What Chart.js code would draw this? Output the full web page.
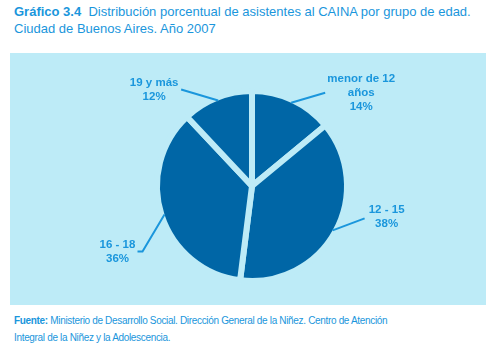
<!DOCTYPE html>
<html><head><meta charset="utf-8">
<script src="https://cdn.jsdelivr.net/npm/chart.js@4/dist/chart.umd.min.js"></script>
<style>
html,body{margin:0;padding:0;background:#fff;width:499px;height:349px;overflow:hidden;}
#title{position:absolute;left:14px;top:3px;font:13px "Liberation Sans",Arial,sans-serif;line-height:17px;color:#1a96dc;white-space:nowrap;}
#title b{font-weight:bold;}
#box{position:absolute;left:10px;top:53px;width:476px;height:252px;background:#bdebf7;}
#foot{position:absolute;left:14px;top:312px;font:10px "Liberation Sans",Arial,sans-serif;letter-spacing:-0.33px;line-height:17px;color:#1a96dc;white-space:nowrap;}
</style></head>
<body>
<div id="title"><b>Gráfico 3.4</b>&nbsp; Distribución porcentual de asistentes al CAINA por grupo de edad.<br>Ciudad de Buenos Aires. Año 2007</div>
<div id="box"><canvas id="c" width="476" height="252"></canvas></div>
<div id="foot"><b>Fuente:</b> Ministerio de Desarrollo Social. Dirección General de la Niñez. Centro de Atención<br>Integral de la Niñez y la Adolescencia.</div>
<script>
const categories = [['menor de 12', 'años'], ['12 - 15'], ['16 - 18'], ['19 y más']];
const values = [14, 38, 36, 12];

const BG = '#bdebf7', PIE = '#0066a6', TXT = '#1a96dc';
// leader line waypoints (relative to arc edge) and text anchor (relative to last point)
const leaders = [
  {pts: [[34, -10]], text: [36, -14]},
  {pts: [[32, -12]], text: [22, -8]},
  {pts: [[-22, 37], [-27, 37]], text: [-20, -7]},
  {pts: [[-37, -11]], text: [-27, -7]}
];

const labelPlugin = {
  id: 'pieLabels',
  afterDatasetsDraw(chart) {
    const ctx = chart.ctx;
    const meta = chart.getDatasetMeta(0);
    const data = chart.data.datasets[0].data;
    meta.data.forEach((arc, i) => {
      const p = arc.getProps(['x', 'y', 'startAngle', 'endAngle', 'outerRadius'], true);
      const mid = (p.startAngle + p.endAngle) / 2;
      const r = p.outerRadius - 3;
      const sx = p.x + Math.cos(mid) * r, sy = p.y + Math.sin(mid) * r;
      const L = leaders[i];
      ctx.save();
      ctx.strokeStyle = TXT; ctx.lineWidth = 2;
      ctx.beginPath(); ctx.moveTo(sx, sy);
      let ex = sx, ey = sy;
      L.pts.forEach(q => { ex = sx + q[0]; ey = sy + q[1]; ctx.lineTo(ex, ey); });
      ctx.stroke();
      const lines = [].concat(chart.data.labels[i], [data[i] + '%']);
      ctx.fillStyle = TXT;
      ctx.font = 'bold 11.5px "Liberation Sans", Arial, sans-serif';
      ctx.textAlign = 'center'; ctx.textBaseline = 'middle';
      lines.forEach((t, k) => ctx.fillText(t, ex + L.text[0], ey + L.text[1] + k * 14));
      ctx.restore();
    });
  }
};

new Chart(document.getElementById('c'), {
  type: 'pie',
  data: {
    labels: categories,
    datasets: [{
      data: values,
      backgroundColor: PIE,
      borderColor: BG,
      borderWidth: 6,
      borderJoinStyle: 'round',
      radius: 95
    }]
  },
  options: {
    responsive: false,
    animation: false,
    layout: {padding: {left: 100, right: 92, top: 20, bottom: 6}},
    plugins: {legend: {display: false}, tooltip: {enabled: false}},
    events: []
  },
  plugins: [labelPlugin]
});
</script>
</body></html>
